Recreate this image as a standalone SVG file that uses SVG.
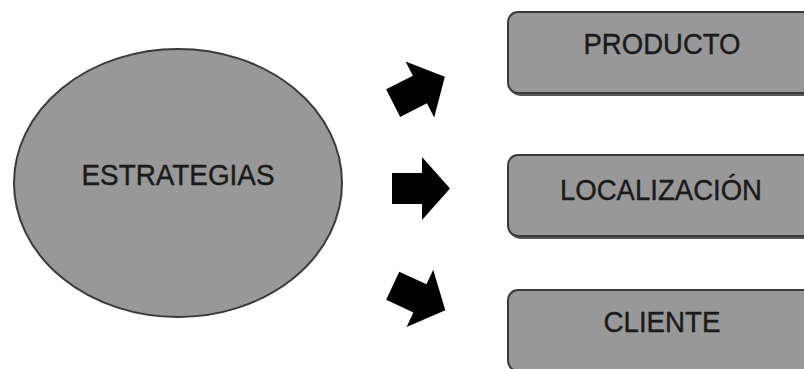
<svg xmlns="http://www.w3.org/2000/svg" xmlns:xlink="http://www.w3.org/1999/xlink" width="804" height="369" viewBox="0 0 804 369">
  <style>
    .shape { fill: #989898; stroke: #3a3a3a; stroke-width: 2; }
    .shadow { fill: #555555; }
    .label { font-family: "Liberation Sans", Arial, sans-serif; font-size: 29px; fill: #1a1a1a; stroke: #1a1a1a; stroke-width: 0.4; text-anchor: middle; }
    .arrow { fill: #000000; }
  </style>
  <defs>
    <path id="arr" d="M -29 -15.5 L 1 -15.5 L 1 -31.5 L 29 0 L 1 31.5 L 1 15.5 L -29 15.5 Z"/>
  </defs>
  <rect width="804" height="369" fill="#ffffff"/>
  <g id="estrategias">
    <ellipse class="shape" cx="178" cy="183" rx="164" ry="134"/>
    <text class="label" x="178" y="185" textLength="193" lengthAdjust="spacingAndGlyphs">ESTRATEGIAS</text>
  </g>
  <g id="connectors">
    <use class="arrow" xlink:href="#arr" transform="translate(419 90) rotate(-27)"/>
    <use class="arrow" xlink:href="#arr" transform="translate(421 188.5)"/>
    <use class="arrow" xlink:href="#arr" transform="translate(419 298) rotate(25)"/>
  </g>
  <g id="producto">
    <rect class="shadow" x="510" y="15" width="310" height="81" rx="10"/>
    <rect class="shape" x="508" y="12" width="310" height="81" rx="10"/>
    <text class="label" x="662" y="54" textLength="157" lengthAdjust="spacingAndGlyphs">PRODUCTO</text>
  </g>
  <g id="localizacion">
    <rect class="shadow" x="510" y="158" width="310" height="81" rx="10"/>
    <rect class="shape" x="508" y="155" width="310" height="81" rx="10"/>
    <text class="label" x="661" y="200" textLength="202" lengthAdjust="spacingAndGlyphs">LOCALIZACIÓN</text>
  </g>
  <g id="cliente">
    <rect class="shadow" x="510" y="293" width="310" height="81" rx="10"/>
    <rect class="shape" x="508" y="290" width="310" height="81" rx="10"/>
    <text class="label" x="662" y="332" textLength="117" lengthAdjust="spacingAndGlyphs">CLIENTE</text>
  </g>
</svg>
